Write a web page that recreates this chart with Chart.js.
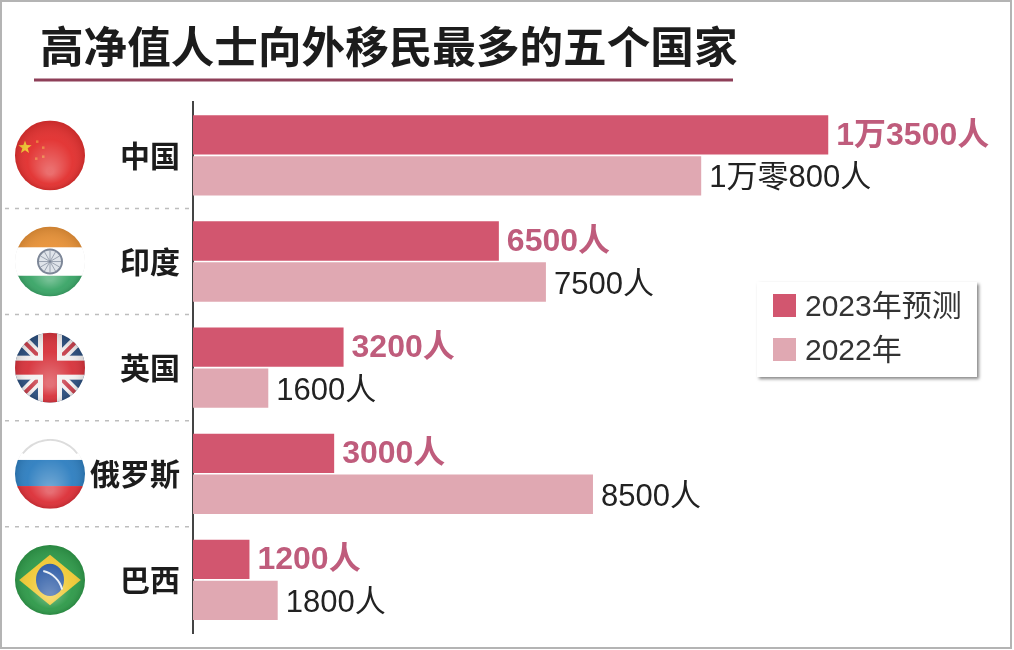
<!DOCTYPE html>
<html>
<head>
<meta charset="utf-8">
<script src="https://cdn.jsdelivr.net/npm/chart.js@4"></script>
<style>
    html, body { margin: 0; padding: 0; background: #fff; }
    body { width: 1014px; height: 650px; position: relative; overflow: hidden; }
    canvas { position: absolute; left: 0; top: 0; }
    .frame { position: absolute; left: 0; top: 0; width: 1008px; height: 645px; border: 2px solid #b4b4b4; pointer-events: none; }
    .legend {
        position: absolute; left: 757px; top: 282px; width: 220px; height: 95px;
        background: #fff; box-shadow: 2px 2px 3px rgba(70, 70, 70, 0.65);
        font-family: "Liberation Sans", "Noto Sans CJK SC", sans-serif; font-size: 30px; color: #333;
    }
    .legend div { position: absolute; left: 16px; white-space: nowrap; line-height: 30px; }
    .legend i { display: inline-block; width: 23px; height: 23px; margin-right: 9px; vertical-align: -1px; }
</style>
</head>
<body>
<canvas id="chart" width="1014" height="650"></canvas>
<div class="frame"></div>
<div class="legend" id="legend"></div>
<script>
const titleText = '高净值人士向外移民最多的五个国家';
const countries = ['中国', '印度', '英国', '俄罗斯', '巴西'];
const values2023 = [13500, 6500, 3200, 3000, 1200];
const values2022 = [10800, 7500, 1600, 8500, 1800];
const labels2023 = ['1万3500人', '6500人', '3200人', '3000人', '1200人'];
const labels2022 = ['1万零800人', '7500人', '1600人', '8500人', '1800人'];
const seriesNames = ['2023年预测', '2022年'];
const seriesColors = ['#d2566f', '#e0a8b2'];

const CJK = '"Noto Sans CJK SC", sans-serif';
const MIXED = '"Liberation Sans", ' + CJK;

function gloss(ctx, r) {
    const g = ctx.createRadialGradient(0, r * 0.45, r * 0.1, 0, 0, r);
    g.addColorStop(0, 'rgba(255,255,255,0.3)');
    g.addColorStop(0.6, 'rgba(255,255,255,0.04)');
    g.addColorStop(1, 'rgba(0,0,0,0.12)');
    ctx.fillStyle = g;
    ctx.fillRect(-r, -r, r * 2, r * 2);
}

function band(ctx, r, y0, y1, color) {
    ctx.fillStyle = color;
    ctx.fillRect(-r, y0, r * 2, y1 - y0);
}

const flags = {
    '中国'(ctx, r) {
        band(ctx, r, -r, r, '#e2302f');
        ctx.fillStyle = '#f2c230';
        ctx.beginPath();
        for (let i = 0; i < 10; i++) {
            const a = -Math.PI / 2 + i * Math.PI / 5;
            const d = i % 2 ? 2.8 : 7;
            ctx.lineTo(-25 + d * Math.cos(a), -8 + d * Math.sin(a));
        }
        ctx.fill();
        ctx.fillStyle = 'rgba(240,150,60,0.7)';
        [[-14, -15], [-8, -9], [-8, 0], [-15, 2]].forEach(p => ctx.fillRect(p[0], p[1], 2.5, 2.5));
        gloss(ctx, r);
    },
    '印度'(ctx, r) {
        band(ctx, r, -r, -r * 0.4, '#e89238');
        band(ctx, r, r * 0.4, r, '#3aa567');
        gloss(ctx, r);
        band(ctx, r, -r * 0.4, r * 0.4, '#fff');
        ctx.strokeStyle = '#7d8798';
        ctx.lineWidth = 2;
        ctx.fillStyle = '#dfe4ea';
        ctx.beginPath();
        ctx.arc(0, 0, 12, 0, Math.PI * 2);
        ctx.fill();
        ctx.stroke();
        ctx.lineWidth = 0.7;
        for (let i = 0; i < 12; i++) {
            const a = i * Math.PI / 6;
            ctx.beginPath();
            ctx.moveTo(0, 0);
            ctx.lineTo(11 * Math.cos(a), 11 * Math.sin(a));
            ctx.stroke();
        }
    },
    '英国'(ctx, r) {
        band(ctx, r, -r, r, '#2c4f7e');
        ctx.strokeStyle = '#f3f0f0';
        ctx.lineWidth = 11;
        ctx.beginPath();
        ctx.moveTo(-r, -r); ctx.lineTo(r, r);
        ctx.moveTo(r, -r); ctx.lineTo(-r, r);
        ctx.stroke();
        ctx.strokeStyle = '#c8404c';
        ctx.lineWidth = 4;
        ctx.stroke();
        band(ctx, r, -12, 12, '#f3f0f0');
        ctx.fillStyle = '#f3f0f0';
        ctx.fillRect(-12, -r, 24, r * 2);
        band(ctx, r, -7, 7, '#d7333c');
        ctx.fillStyle = '#d7333c';
        ctx.fillRect(-7, -r, 14, r * 2);
        gloss(ctx, r);
    },
    '俄罗斯'(ctx, r) {
        band(ctx, r, -r * 0.4, r * 0.35, '#2f7fc0');
        band(ctx, r, r * 0.35, r, '#dc3038');
        gloss(ctx, r);
        band(ctx, r, -r, -r * 0.4, '#fff');
        ctx.strokeStyle = '#dcdcdc';
        ctx.lineWidth = 2;
        ctx.beginPath();
        ctx.arc(0, 0, r - 1, -2.5, -0.64);
        ctx.stroke();
    },
    '巴西'(ctx, r) {
        band(ctx, r, -r, r, '#2f9a4a');
        ctx.fillStyle = '#f0c935';
        ctx.beginPath();
        ctx.moveTo(-r * 0.88, 0); ctx.lineTo(0, -r * 0.72);
        ctx.lineTo(r * 0.88, 0); ctx.lineTo(0, r * 0.72);
        ctx.fill();
        ctx.fillStyle = '#2b5aa5';
        ctx.beginPath();
        ctx.ellipse(0, 0, r * 0.4, r * 0.46, 0, 0, Math.PI * 2);
        ctx.fill();
        ctx.strokeStyle = '#e8eef5';
        ctx.lineWidth = 2;
        ctx.beginPath();
        ctx.arc(-r * 0.35, r * 0.45, r * 0.72, -1.35, -0.25);
        ctx.stroke();
        gloss(ctx, r);
    }
};

// Flags, separators, title rule and value labels
const decorations = {
    id: 'decorations',
    afterDatasetsDraw(chart) {
        const { ctx, scales: { y }, chartArea } = chart;
        ctx.save();

        ctx.strokeStyle = '#8e3f58';
        ctx.lineWidth = 3;
        ctx.beginPath();
        ctx.moveTo(34, 80);
        ctx.lineTo(733, 80);
        ctx.stroke();

        ctx.strokeStyle = '#bdbdbd';
        ctx.lineWidth = 1.5;
        ctx.setLineDash([4, 6]);
        for (let i = 1; i < countries.length; i++) {
            const py = (y.getPixelForValue(i - 1) + y.getPixelForValue(i)) / 2;
            ctx.beginPath();
            ctx.moveTo(5, py);
            ctx.lineTo(chartArea.left - 2, py);
            ctx.stroke();
        }
        ctx.setLineDash([]);

        countries.forEach((name, i) => {
            const r = 35;
            ctx.save();
            ctx.translate(50, y.getPixelForValue(i));
            ctx.beginPath();
            ctx.arc(0, 0, r, 0, Math.PI * 2);
            ctx.clip();
            flags[name](ctx, r);
            ctx.restore();
        });

        ctx.textBaseline = 'middle';
        chart.getDatasetMeta(0).data.forEach((bar, i) => {
            ctx.font = 'bold 32px ' + MIXED;
            ctx.fillStyle = '#bf5c7c';
            ctx.fillText(labels2023[i], bar.x + 8, bar.y + 1);
        });
        chart.getDatasetMeta(1).data.forEach((bar, i) => {
            ctx.font = '31px ' + MIXED;
            ctx.fillStyle = '#222';
            ctx.fillText(labels2022[i], bar.x + 8, bar.y + 3);
        });
        ctx.restore();
    }
};

const chart = new Chart(document.getElementById('chart').getContext('2d'), {
    type: 'bar',
    data: {
        labels: countries,
        datasets: [
            { label: seriesNames[0], data: values2023, backgroundColor: seriesColors[0] },
            { label: seriesNames[1], data: values2022, backgroundColor: seriesColors[1] }
        ]
    },
    plugins: [decorations],
    options: {
        indexAxis: 'y',
        responsive: false,
        animation: false,
        categoryPercentage: 0.772,
        barPercentage: 0.96,
        layout: { padding: { left: 40, right: 14, top: 0, bottom: 17 } },
        plugins: {
            legend: { display: false },
            tooltip: { enabled: false },
            title: {
                display: true,
                text: titleText,
                align: 'start',
                color: '#1c1c1c',
                font: { family: CJK, size: 43.6, weight: 'bold', lineHeight: 1.2 },
                padding: { top: 20, bottom: 30 }
            }
        },
        scales: {
            x: { display: false, min: 0, max: 17150 },
            y: {
                afterFit(scale) {
                    scale.width = 153;
                    scale.paddingTop = 0;
                    scale.paddingBottom = 0;
                },
                grid: { display: false },
                border: { color: '#444', width: 2 },
                ticks: {
                    color: '#1c1c1c',
                    padding: 5,
                    font: { family: CJK, size: 30, weight: 'bold' }
                }
            }
        }
    }
});

// HTML legend built from the datasets
const legendEl = document.getElementById('legend');
chart.data.datasets.forEach((ds, i) => {
    const row = document.createElement('div');
    row.style.top = (i === 0 ? 9 : 53) + 'px';
    row.innerHTML = '<i style="background:' + ds.backgroundColor + '"></i>' + ds.label;
    legendEl.appendChild(row);
});
</script>
</body>
</html>
